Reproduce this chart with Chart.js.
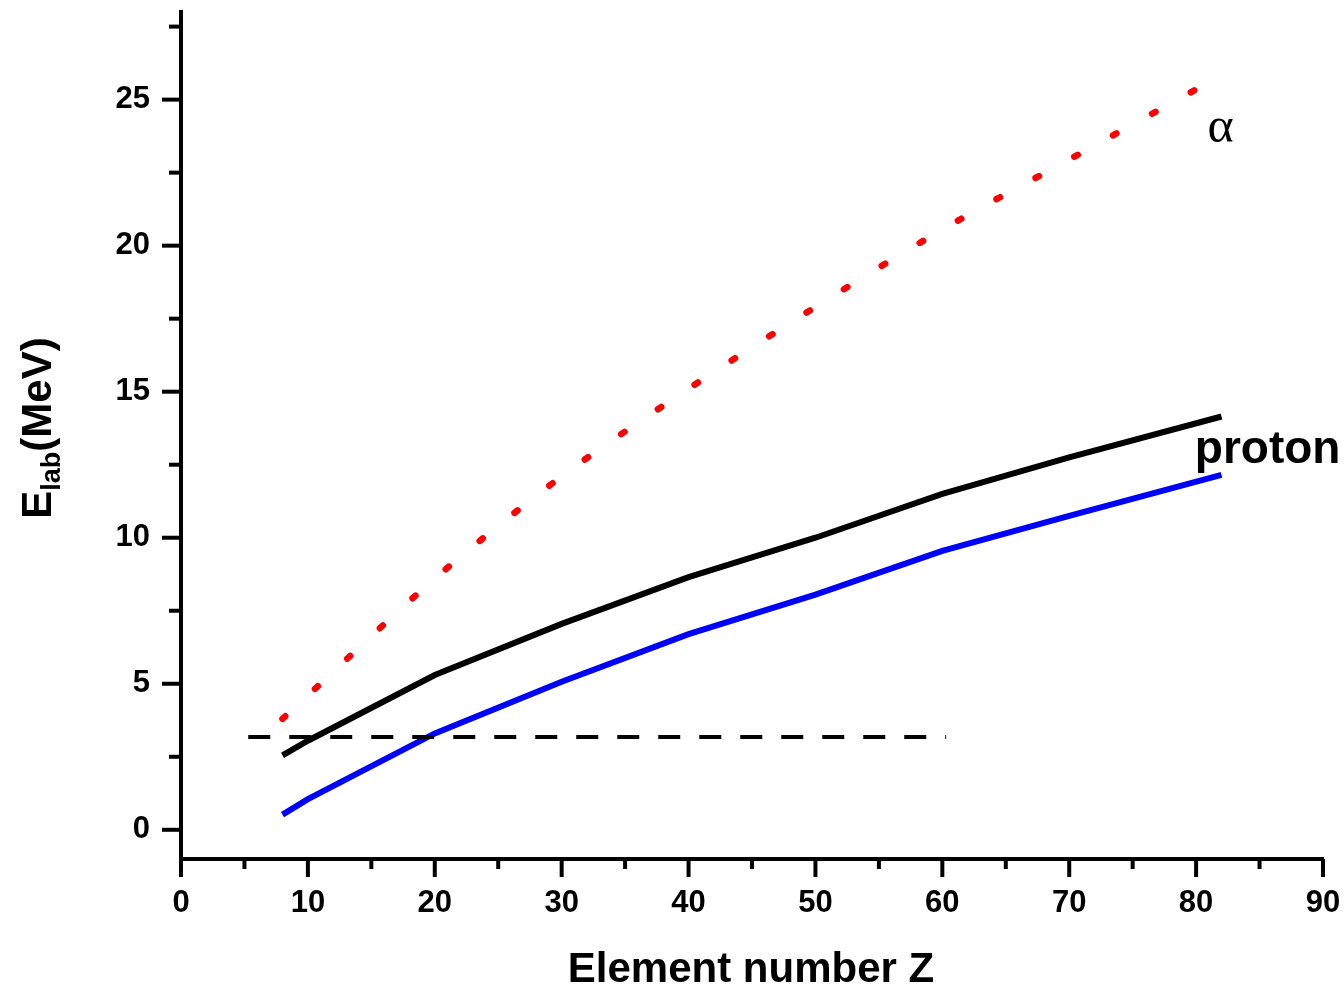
<!DOCTYPE html>
<html>
<head>
<meta charset="utf-8">
<script src="https://cdn.jsdelivr.net/npm/chart.js@4.4.0/dist/chart.umd.min.js"></script>
<style>
html,body{margin:0;padding:0;background:#fff;}
#wrap{width:1344px;height:991px;}
</style>
</head>
<body>
<div id="wrap"><canvas id="c" width="1344" height="991"></canvas></div>
<script>
// ---- data ----
const zProton = [8, 10, 20, 30, 40, 50, 60, 70, 82];
const protonUpper = [2.55, 3.05, 5.3, 7.05, 8.65, 10.0, 11.5, 12.75, 14.15];
const protonLower = [0.52, 1.05, 3.3, 5.07, 6.7, 8.05, 9.55, 10.75, 12.15];
const zAlpha = [8, 10, 20, 30, 40, 50, 60, 70, 80];
const alphaVals = [3.8, 4.6, 8.6, 12.1, 15.1, 17.9, 20.55, 22.95, 25.35];
const barrierZ = [5.3, 60.3];
const barrierVal = [3.18, 3.18];
const xMajorTicks = [0, 10, 20, 30, 40, 50, 60, 70, 80, 90];
const xMinorTicks = [5, 15, 25, 35, 45, 55, 65, 75, 85];
const yMajorTicks = [0, 5, 10, 15, 20, 25];
const yMinorTicks = [2.5, 7.5, 12.5, 17.5, 22.5, 27.5];
const xTitle = 'Element number Z';
const alphaLabel = 'α';
const protonLabel = 'proton';

const toPts = (xs, ys) => xs.map((x, i) => ({x: x, y: ys[i]}));

const FONT = '"Liberation Sans", Arial, sans-serif';

function noPad(s) { s.paddingTop = 0; s.paddingBottom = 0; s.paddingLeft = 0; s.paddingRight = 0; }

const decor = {
  id: 'decor',
  afterDraw(chart) {
    const ctx = chart.ctx;
    const xs = chart.scales.x, ys = chart.scales.y;
    const ax = chart.chartArea.left, ay = chart.chartArea.bottom;
    ctx.save();
    ctx.strokeStyle = '#000';
    ctx.lineWidth = 4;
    ctx.lineCap = 'butt';
    // y ticks
    yMajorTicks.forEach(v => { const p = ys.getPixelForValue(v); ctx.beginPath(); ctx.moveTo(ax, p); ctx.lineTo(ax - 19, p); ctx.stroke(); });
    yMinorTicks.forEach(v => { const p = ys.getPixelForValue(v); ctx.beginPath(); ctx.moveTo(ax, p); ctx.lineTo(ax - 12, p); ctx.stroke(); });
    // x ticks
    xMajorTicks.forEach(v => { const p = xs.getPixelForValue(v); ctx.beginPath(); ctx.moveTo(p, ay); ctx.lineTo(p, ay + 18); ctx.stroke(); });
    xMinorTicks.forEach(v => { const p = xs.getPixelForValue(v); ctx.beginPath(); ctx.moveTo(p, ay); ctx.lineTo(p, ay + 10); ctx.stroke(); });

    ctx.fillStyle = '#000';
    // x title
    ctx.font = 'bold 42px ' + FONT;
    ctx.textAlign = 'center';
    ctx.textBaseline = 'middle';
    ctx.fillText(xTitle, 751, 970);

    // y title (rotated) E_lab(MeV)
    ctx.save();
    ctx.translate(36, 428);
    ctx.rotate(-Math.PI / 2);
    const big = 'bold 42px ' + FONT, small = 'bold 27px ' + FONT;
    ctx.font = big; const wE = ctx.measureText('E').width; const wM = ctx.measureText('(MeV)').width;
    ctx.font = small; const wL = ctx.measureText('lab').width;
    const total = wE + wL + wM;
    let x0 = -total / 2;
    ctx.textAlign = 'left';
    ctx.textBaseline = 'alphabetic';
    ctx.font = big; ctx.fillText('E', x0, 15); x0 += wE;
    ctx.font = small; ctx.fillText('lab', x0, 24); x0 += wL;
    ctx.font = big; ctx.fillText('(MeV)', x0, 15);
    ctx.restore();

    // annotations
    ctx.textAlign = 'left';
    ctx.textBaseline = 'middle';
    ctx.font = '50px "Liberation Serif", "Times New Roman", serif';
    ctx.fillText(alphaLabel, xs.getPixelForValue(80.9), ys.getPixelForValue(24.0));
    ctx.font = 'bold 46px ' + FONT;
    ctx.fillText(protonLabel, xs.getPixelForValue(79.9), ys.getPixelForValue(13.0));
    ctx.restore();
  }
};

new Chart(document.getElementById('c'), {
  type: 'line',
  data: {
    datasets: [
      { data: toPts(zAlpha, alphaVals), borderColor: '#ff0000', borderWidth: 6.5, borderDash: [4, 40.3], borderCapStyle: 'round', pointRadius: 0, fill: false, tension: 0.3 },
      { data: toPts(barrierZ, barrierVal), borderColor: '#000', borderWidth: 4, borderDash: [22, 19], pointRadius: 0, fill: false },
      { data: toPts(zProton, protonUpper), borderColor: '#000', borderWidth: 6, pointRadius: 0, fill: false, tension: 0 },
      { data: toPts(zProton, protonLower), borderColor: '#0000ff', borderWidth: 6, pointRadius: 0, fill: false, tension: 0 }
    ]
  },
  options: {
    responsive: false,
    animation: false,
    layout: { padding: { top: 12, right: 21, left: 0, bottom: 0 } },
    plugins: { legend: { display: false }, tooltip: { enabled: false }, title: { display: false } },
    scales: {
      x: {
        type: 'linear', min: 0, max: 90,
        afterFit(s) { s.height = 132; noPad(s); },
        afterBuildTicks(s) { s.ticks = xMajorTicks.map(v => ({value: v})); },
        grid: { display: false, drawTicks: false },
        border: { display: true, color: '#000', width: 4 },
        ticks: { color: '#000', font: { family: FONT, size: 31, weight: 'bold' }, padding: 26, maxRotation: 0, autoSkip: false }
      },
      y: {
        type: 'linear', min: -1, max: 28,
        afterFit(s) { s.width = 181; noPad(s); },
        afterBuildTicks(s) { s.ticks = yMajorTicks.map(v => ({value: v})); },
        grid: { display: false, drawTicks: false },
        border: { display: true, color: '#000', width: 4 },
        ticks: { color: '#000', font: { family: FONT, size: 31, weight: 'bold' }, padding: 31, autoSkip: false }
      }
    }
  },
  plugins: [decor]
});
</script>
</body>
</html>
